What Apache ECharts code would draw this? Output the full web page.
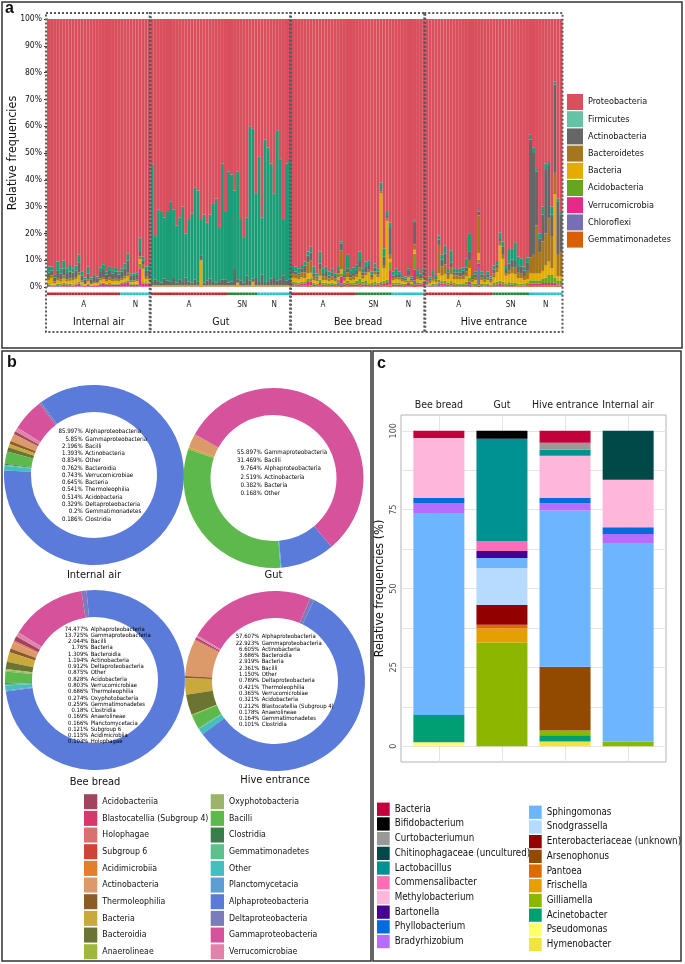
<!DOCTYPE html>
<html>
<head>
<meta charset="utf-8">
<script src="https://cdn.jsdelivr.net/npm/echarts@6.0.0/dist/echarts.min.js"></script>
<style>
html,body{margin:0;padding:0;background:#ffffff;}
#chart{width:685px;height:964px;}
</style>
</head>
<body>
<div id="chart"></div>
<script>
const NARROW = "'Liberation Sans Narrow','DejaVu Sans Condensed','Liberation Sans',sans-serif";
const BOLDF = "'Liberation Sans','DejaVu Sans',sans-serif";

// ================= Panel a : per-sample phylum relative frequencies =================
const groupNames = ['Internal air', 'Gut', 'Bee bread', 'Hive entrance'];
const groupSeasons = [
  [['A', 24], ['N', 10]],
  [['A', 25], ['SN', 10], ['N', 11]],
  [['A', 21], ['SN', 12], ['N', 11]],
  [['A', 22], ['SN', 12], ['N', 11]]
];
const phyla = ['Proteobacteria','Firmicutes','Actinobacteria','Bacteroidetes','Bacteria','Acidobacteria','Verrucomicrobia','Chloroflexi','Gemmatimonadetes'];

const Proteobacteria = [
  // Internal air
  92.4,92.4,95.5,90.5,93.0,90.2,93.0,91.8,93.0,92.0,87.8,94.3,96.5,92.4,96.5,95.5,96.1,92.8,91.5,94.3,92.5,93.7,92.9,94.3,93.0,91.2,87.4,94.9,94.9,94.5,81.6,88.7,92.4,92.0,
  // Gut
  54.2,81,71,72,74,72,68,71,77,74,70,80,75,72.5,63,64,75,73,76,73,69,67,78,54,72,57,58,64,57,75,81.4,74,40,41,65,51.4,74,45,48,54,65,41.5,52.3,75,54,53,
  // Bee bread
  91.8,92.4,93.0,91.8,90.5,86.8,85.0,92.4,94.9,86.8,93.0,92.4,94.3,93.0,94.9,92.2,83.1,93.7,88.0,93.7,92.8,91.5,86.8,93.0,90.5,90.0,94.3,91.2,93.0,61.0,85.6,72.0,76.0,94.3,93.0,94.3,95.5,96.1,93.0,96.1,75.1,93.7,94.9,93.0,
  // Hive entrance
  98.0,96.1,93.7,95.5,80.8,87.8,84.6,93.3,86.3,93.0,93.3,93.0,92.8,89.3,79.9,95.5,94.3,71.3,94.3,95.5,94.3,96.1,
  92.0,90.3,79.6,83.0,91.8,86.2,85.8,83.3,88.7,89.3,92.4,89.0,
  43.0,48.0,56.0,80.0,70.0,54.0,53.0,70.0,23.4,67.0,72.0
];
const Firmicutes = [
  2.2,1.5,1.0,3.5,2.0,3.0,1.8,2.4,1.6,1.8,3.2,1.5,0.8,2.5,0.6,0.8,0.6,1.6,1.8,1.0,1.5,1.2,1.4,1.0,1.3,1.8,2.8,0.9,1.0,1.0,5.0,1.5,1.6,1.8,
  43.6,16.3,27.1,26.3,22.8,25.5,30.1,25.3,21.3,23.1,27.8,16.5,22.9,25.8,34.3,34.1,13.4,25.3,21.5,23.8,29.1,31.3,19.8,43.3,25.1,41.3,39.9,29.3,40.1,22.5,16.9,21.8,57.7,55.8,31.3,46.4,21.3,53.1,49.8,42.8,31.3,56.0,44.8,20.8,43.7,44.3,
  1.5,1.8,2.0,1.2,1.5,1.5,2.2,2.5,1.2,4.5,1.8,2.0,1.5,1.5,1.0,1.5,0.8,1.8,5.0,1.5,2.0,2.2,3.5,1.5,2.0,1.8,1.0,1.5,1.2,2.5,3.0,1.5,2.0,1.5,2.5,1.2,1.0,0.8,1.0,0.8,1.0,1.5,1.0,1.2,
  0.4,0.8,1.5,0.8,1.5,2.0,3.0,1.2,4.5,1.5,1.2,1.5,1.0,3.5,7.0,0.8,1.0,0.5,1.0,0.8,1.2,0.8,
  1.5,1.2,2.5,2.0,1.5,5.0,4.0,7.0,3.5,3.0,1.5,2.0,
  2.0,2.0,1.0,2.0,3.0,2.0,1.5,3.0,1.0,1.0,1.0
];
const Actinobacteria = [
  2.0,1.8,1.4,2.6,2.2,2.5,2.4,2.6,2.0,2.5,3.5,1.8,1.2,2.2,1.4,1.8,1.5,2.4,3.0,2.0,2.5,2.2,2.6,2.0,2.4,3.0,4.5,1.8,1.6,1.8,2.0,1.5,2.2,2.4,
  1.5,2.0,1.2,1.0,2.5,1.8,1.2,3.0,1.0,2.2,1.5,2.8,1.4,1.0,2.0,1.2,1.5,1.0,1.8,2.5,1.2,1.0,1.5,2.0,2.2,1.0,1.4,6.0,1.2,1.8,1.0,3.5,1.6,1.2,3.0,1.5,4.0,1.2,1.5,2.5,3.0,1.8,2.2,3.5,1.6,2.0,
  1.5,1.0,0.8,1.5,2.5,2.5,3.0,1.0,0.8,2.0,1.2,1.5,1.0,1.5,1.0,1.2,2.5,1.0,1.5,1.2,1.2,1.5,2.5,1.2,2.0,1.8,1.0,1.5,1.2,0.8,3.5,1.0,10.0,0.8,0.8,1.0,0.8,0.6,1.5,0.6,8.0,1.0,0.8,1.5,
  0.4,0.8,1.0,0.8,2.0,2.5,4.0,1.0,2.0,1.2,1.2,1.5,1.8,1.5,3.0,0.8,1.0,1.5,1.0,0.8,1.0,0.8,
  1.5,1.5,1.0,3.0,1.5,2.5,3.0,2.5,2.5,2.5,2.0,3.0,
  44.0,38.0,20.0,5.0,10.0,24.0,20.0,8.0,33.0,20.0,14.0
];
const Bacteroidetes = [
  0.8,0.9,0.6,1.0,0.8,1.2,0.7,0.9,1.0,0.8,1.2,0.6,0.4,0.8,0.4,0.5,0.5,0.8,0.9,0.7,0.9,0.7,0.8,0.6,0.8,0.9,1.2,0.6,0.6,0.6,1.0,1.5,0.8,0.9,
  0.2,0.2,0.2,0.2,0.2,0.2,0.2,0.2,0.2,0.2,0.2,0.2,0.2,0.2,0.2,0.2,0.2,0.2,0.2,0.2,0.2,0.2,0.2,0.2,0.2,0.2,0.2,0.2,0.2,0.2,0.2,0.2,0.2,0.2,0.2,0.2,0.2,0.2,0.2,0.2,0.2,0.2,0.2,0.2,0.2,0.2,
  1.8,1.6,1.4,2.0,2.2,4.0,4.5,1.5,1.0,2.5,1.4,1.5,1.0,1.4,1.0,1.5,7.0,1.2,2.0,1.2,1.3,1.2,1.5,1.2,1.2,1.0,1.0,1.2,1.0,0.8,1.0,0.8,1.5,0.8,0.8,0.8,0.6,0.6,1.0,0.6,2.0,1.0,0.8,1.0,
  0.4,0.8,1.5,1.0,10.5,3.5,3.5,1.5,2.5,1.5,1.5,1.2,1.5,1.8,3.0,1.0,1.2,14.0,1.2,1.0,1.0,0.7,
  1.5,1.5,1.5,1.5,1.0,1.5,2.0,2.5,2.0,2.0,1.5,3.0,
  6.0,7.0,18.0,8.0,11.0,12.0,16.0,12.0,8.0,8.0,9.0
];
const Bacteria = [
  1.2,2.5,0.6,1.2,0.9,1.5,1.0,1.1,1.4,1.5,2.2,0.8,0.5,0.9,0.5,0.6,0.5,1.0,1.2,0.8,1.1,0.9,1.0,0.9,1.0,1.2,1.6,0.7,0.8,0.9,1.6,5.0,1.2,1.2,
  0.2,0.2,0.2,0.2,0.2,0.2,0.2,0.2,0.2,0.2,0.2,0.2,0.2,0.2,0.2,0.2,9.6,0.2,0.2,0.2,0.2,0.2,0.2,0.2,0.2,0.2,0.2,0.2,1.2,0.2,0.2,0.2,0.2,1.5,0.2,0.2,0.2,0.2,0.2,0.2,0.2,0.2,0.2,0.2,0.2,0.2,
  1.5,1.4,1.2,1.5,1.2,2.0,2.0,1.0,0.8,1.5,1.0,1.0,0.8,1.0,0.8,1.0,1.5,0.8,1.2,0.9,1.0,1.2,2.5,1.2,1.8,4.0,1.2,2.5,2.0,33.0,4.5,22.0,1.2,1.0,1.2,1.0,0.8,0.7,1.0,0.7,1.5,1.0,0.9,1.2,
  0.3,0.6,1.0,0.8,2.5,2.0,2.5,1.5,2.5,1.3,1.5,1.5,1.5,2.0,3.5,0.8,1.2,2.5,1.2,0.8,1.2,0.8,
  2.0,3.5,13.0,8.5,2.8,3.0,3.5,3.0,2.0,2.0,1.5,1.5,
  2.5,2.5,2.5,2.5,3.0,4.5,5.0,2.5,31.0,1.5,1.5
];
const Acidobacteria = [
  0.5,0.4,0.4,0.5,0.5,0.6,0.4,0.5,0.4,0.5,0.8,0.4,0.2,0.4,0.2,0.3,0.3,0.4,0.5,0.4,0.5,0.4,0.4,0.4,0.4,0.5,0.7,0.3,0.3,0.3,1.8,0.6,0.5,0.5,
  0.1,0.1,0.1,0.1,0.1,0.1,0.1,0.1,0.1,0.1,0.1,0.1,0.1,0.1,0.1,0.1,0.1,0.1,0.1,0.1,0.1,0.1,0.1,0.1,0.1,0.1,0.1,0.1,0.1,0.1,0.1,0.1,0.1,0.1,0.1,0.1,0.1,0.1,0.1,0.1,0.1,0.1,0.1,0.1,0.1,0.1,
  0.8,0.8,0.7,0.8,0.8,1.0,1.2,0.8,0.6,1.2,0.8,0.8,0.7,0.8,0.6,0.8,1.2,0.7,1.0,0.7,0.8,1.5,1.8,1.0,1.5,0.6,0.8,1.2,0.8,0.8,1.0,1.2,3.0,0.8,0.8,0.8,0.6,0.5,0.8,0.5,6.0,0.8,0.6,0.8,
  0.2,0.4,0.6,0.5,1.0,1.0,1.2,0.7,1.0,0.7,0.6,0.6,0.6,1.0,1.5,0.5,0.6,1.5,0.6,0.5,0.6,0.4,
  0.8,1.0,1.2,1.0,0.7,1.0,0.9,1.0,0.8,0.7,0.6,0.8,
  1.2,1.2,1.2,1.2,1.5,2.0,3.0,3.0,2.0,1.5,1.5
];
const Verrucomicrobia = [
  0.5,0.3,0.3,0.4,0.4,0.7,0.5,0.5,0.4,0.7,1.0,0.4,0.3,0.6,0.3,0.4,0.4,0.8,0.9,0.6,0.8,0.7,0.7,0.6,0.9,1.2,1.5,0.6,0.6,0.7,6.6,1.0,1.1,1.0,
  0.1,0.1,0.1,0.1,0.1,0.1,0.1,0.1,0.1,0.1,0.1,0.1,0.1,0.1,0.1,0.1,0.1,0.1,0.1,0.1,0.1,0.1,0.1,0.1,0.1,0.1,0.1,0.1,0.1,0.1,0.1,0.1,0.1,0.1,0.1,0.1,0.1,0.1,0.1,0.1,0.1,0.1,0.1,0.1,0.1,0.1,
  0.6,0.5,0.5,0.7,0.8,1.5,1.5,0.5,0.4,1.0,0.5,0.5,0.4,0.5,0.4,0.6,2.5,0.5,0.8,0.5,0.6,0.6,0.9,0.6,0.7,0.5,0.5,0.6,0.6,0.6,1.0,1.0,5.5,0.5,0.6,0.6,0.5,0.5,1.3,0.5,4.0,0.8,0.8,1.0,
  0.1,0.2,0.3,0.3,0.5,0.5,0.5,0.4,0.6,0.4,0.3,0.3,0.4,0.5,1.0,0.3,0.4,1.2,0.4,0.3,0.4,0.2,
  0.4,0.6,0.8,0.6,0.4,0.5,0.5,0.4,0.3,0.3,0.3,0.4,
  0.6,0.6,0.6,0.6,1.0,1.0,1.0,1.0,1.0,0.5,0.5
];
const Chloroflexi = [
  0.2,0.1,0.1,0.2,0.1,0.2,0.1,0.1,0.1,0.1,0.2,0.1,0.05,0.1,0.05,0.05,0.05,0.1,0.1,0.1,0.1,0.1,0.1,0.1,0.1,0.1,0.2,0.1,0.1,0.1,0.2,0.1,0.1,0.1,
  0.05,0.05,0.05,0.05,0.05,0.05,0.05,0.05,0.05,0.05,0.05,0.05,0.05,0.05,0.05,0.05,0.05,0.05,0.05,0.05,0.05,0.05,0.05,0.05,0.05,0.05,0.05,0.05,0.05,0.05,0.05,0.05,0.05,0.05,0.05,0.05,0.05,0.05,0.05,0.05,0.05,0.05,0.05,0.05,0.05,0.05,
  0.3,0.3,0.2,0.3,0.3,0.4,0.3,0.1,0.1,0.2,0.1,0.1,0.1,0.1,0.1,1.0,1.0,0.1,0.2,0.1,0.1,0.1,0.2,0.1,0.1,0.1,0.0,0.1,0.0,0.2,0.2,0.2,0.3,0.1,0.1,0.1,0.0,0.0,0.2,0.0,1.6,0.0,0.0,0.1,
  0.1,0.2,0.2,0.2,1.0,0.5,0.5,0.2,0.4,0.2,0.2,0.2,0.2,0.2,0.8,0.2,0.2,7.0,0.2,0.2,0.2,0.1,
  0.2,0.2,0.2,0.2,0.1,0.1,0.1,0.1,0.0,0.0,0.0,0.1,
  0.4,0.4,0.4,0.4,0.2,0.2,0.2,0.2,0.3,0.2,0.2
];
const Gemmatimonadetes = [
  0.2,0.1,0.1,0.1,0.1,0.1,0.1,0.1,0.1,0.1,0.1,0.1,0.05,0.1,0.05,0.05,0.05,0.1,0.1,0.1,0.1,0.1,0.1,0.1,0.1,0.1,0.1,0.1,0.1,0.1,0.2,0.1,0.1,0.1,
  0.05,0.05,0.05,0.05,0.05,0.05,0.05,0.05,0.05,0.05,0.05,0.05,0.05,0.05,0.05,0.05,0.05,0.05,0.05,0.05,0.05,0.05,0.05,0.05,0.05,0.05,0.05,0.05,0.05,0.05,0.05,0.05,0.05,0.05,0.05,0.05,0.05,0.05,0.05,0.05,0.05,0.05,0.05,0.05,0.05,0.05,
  0.2,0.2,0.2,0.2,0.2,0.3,0.3,0.2,0.2,0.3,0.2,0.2,0.2,0.2,0.2,0.2,0.4,0.2,0.3,0.2,0.2,0.2,0.3,0.2,0.2,0.2,0.2,0.2,0.2,0.3,0.2,0.3,0.5,0.2,0.2,0.2,0.2,0.2,0.2,0.2,0.8,0.2,0.2,0.2,
  0.1,0.1,0.2,0.1,0.2,0.2,0.2,0.2,0.2,0.2,0.2,0.2,0.2,0.2,0.3,0.1,0.1,0.5,0.1,0.1,0.1,0.1,
  0.1,0.2,0.2,0.2,0.2,0.2,0.2,0.2,0.2,0.2,0.2,0.2,
  0.3,0.3,0.3,0.3,0.3,0.3,0.3,0.3,0.3,0.3,0.3
];

// ================= Panel b : class composition per sample type =================
const pieLegendLeft = ['Acidobacteriia','Blastocatellia (Subgroup 4)','Holophagae','Subgroup 6','Acidimicrobiia','Actinobacteria','Thermoleophilia','Bacteria','Bacteroidia','Anaerolineae'];
const pieLegendRight = ['Oxyphotobacteria','Bacilli','Clostridia','Gemmatimonadetes','Other','Planctomycetacia','Alphaproteobacteria','Deltaproteobacteria','Gammaproteobacteria','Verrucomicrobiae'];
const pieInternalAir = [['Alphaproteobacteria','85.997'],['Gammaproteobacteria','5.85'],['Bacilli','2.196'],['Actinobacteria','1.393'],['Other','0.834'],['Bacteroidia','0.762'],['Verrucomicrobiae','0.743'],['Bacteria','0.645'],['Thermoleophilia','0.541'],['Acidobacteriia','0.514'],['Deltaproteobacteria','0.329'],['Gemmatimonadetes','0.2'],['Clostridia','0.186']];
const pieGut = [['Gammaproteobacteria','55.897'],['Bacilli','31.469'],['Alphaproteobacteria','9.764'],['Actinobacteria','2.519'],['Bacteria','0.382'],['Other','0.168']];
const pieBeeBread = [['Alphaproteobacteria','74.477'],['Gammaproteobacteria','13.725'],['Bacilli','2.044'],['Bacteria','1.76'],['Bacteroidia','1.309'],['Actinobacteria','1.194'],['Deltaproteobacteria','0.912'],['Other','0.875'],['Acidobacteriia','0.828'],['Verrucomicrobiae','0.803'],['Thermoleophilia','0.686'],['Oxyphotobacteria','0.274'],['Gemmatimonadetes','0.259'],['Clostridia','0.18'],['Anaerolineae','0.169'],['Planctomycetacia','0.166'],['Subgroup 6','0.121'],['Acidimicrobiia','0.115'],['Holophagae','0.103']];
const pieHiveEntrance = [['Alphaproteobacteria','57.607'],['Gammaproteobacteria','22.923'],['Actinobacteria','6.605'],['Bacteroidia','3.686'],['Bacteria','2.919'],['Bacilli','2.361'],['Other','1.150'],['Deltaproteobacteria','0.789'],['Thermoleophilia','0.421'],['Verrucomicrobiae','0.365'],['Acidobacteriia','0.321'],['Blastocatellia (Subgroup 4)','0.212'],['Anaerolineae','0.178'],['Gemmatimonadetes','0.164'],['Clostridia','0.101']];

// ================= Panel c : genus composition per sample type =================
const sampleTypes = ['Bee bread', 'Gut', 'Hive entrance', 'Internal air'];
const generaLeft = ['Bacteria','Bifidobacterium','Curtobacteriumun','Chitinophagaceae (uncultured)','Lactobacillus','Commensalibacter','Methylobacterium','Bartonella','Phyllobacterium','Bradyrhizobium'];
const generaRight = ['Sphingomonas','Snodgrassella','Enterobacteriaceae (unknown)','Arsenophonus','Pantoea','Frischella','Gilliamella','Acinetobacter','Pseudomonas','Hymenobacter'];
// values in order [Bee bread, Gut, Hive entrance, Internal air]
const gBacteria = [2.3, 0, 3.8, 0];
const gBifidobacterium = [0, 2.5, 0, 0];
const gCurtobacteriumun = [0, 0, 2.2, 0];
const gChitinophagaceae = [0, 0, 0, 15.5];
const gLactobacillus = [0, 32.5, 1.9, 0];
const gCommensalibacter = [0, 3.1, 0, 0];
const gMethylobacterium = [18.9, 0, 13.3, 15.1];
const gBartonella = [0, 2.2, 0, 0];
const gPhyllobacterium = [1.7, 0, 1.8, 2.1];
const gBradyrhizobium = [3.4, 0, 2.3, 3.1];
const gSphingomonas = [63.8, 3.2, 49.5, 62.8];
const gSnodgrassella = [0, 11.7, 0, 0];
const gEnterobacteriaceae = [0, 6.3, 0, 0];
const gArsenophonus = [0, 0, 20.2, 0];
const gPantoea = [0, 1.1, 0, 0];
const gFrischella = [0, 4.5, 0, 0];
const gGilliamella = [0, 32.9, 1.5, 1.4];
const gAcinetobacter = [8.6, 0, 2.0, 0];
const gPseudomonas = [1.3, 0, 0, 0];
const gHymenobacter = [0, 0, 1.5, 0];

// ---------------- styles ----------------
const phylumColors = {Proteobacteria:'#DA4F5D', Firmicutes:'#1B9E77', Actinobacteria:'#666666', Bacteroidetes:'#A6761D', Bacteria:'#E6AB02', Acidobacteria:'#66A61E', Verrucomicrobia:'#E7298A', Chloroflexi:'#7570B3', Gemmatimonadetes:'#D95F02'};
const phylumLegendColors = Object.assign({}, phylumColors, {Firmicutes:'#66C2A5'});
const seasonColors = {A:'#C9252C', SN:'#1F8A3B', N:'#22C6D1'};
const classColors = {
  'Acidobacteriia':'#A1455E','Blastocatellia (Subgroup 4)':'#D4386C','Holophagae':'#D9716E','Subgroup 6':'#CF4535','Acidimicrobiia':'#E27F2E',
  'Actinobacteria':'#DC9A6B','Thermoleophilia':'#8E5B27','Bacteria':'#C9A93C','Bacteroidia':'#6B7430','Anaerolineae':'#9DB83C',
  'Oxyphotobacteria':'#9BB36B','Bacilli':'#5DB94B','Clostridia':'#3B7D4A','Gemmatimonadetes':'#5CC28D','Other':'#45BEBE',
  'Planctomycetacia':'#5E9ED6','Alphaproteobacteria':'#5B7BDA','Deltaproteobacteria':'#7B7CBA','Gammaproteobacteria':'#D6539C','Verrucomicrobiae':'#E282AA'
};
const classAlias = {'Acidobacteriia':'Acidobacteria'};
const genusColors = {
  'Bacteria':'#C2003A','Bifidobacterium':'#000000','Curtobacteriumun':'#999999','Chitinophagaceae (uncultured)':'#004949','Lactobacillus':'#009292',
  'Commensalibacter':'#FF6DB6','Methylobacterium':'#FFB6DB','Bartonella':'#490092','Phyllobacterium':'#006DDB','Bradyrhizobium':'#B66DFF',
  'Sphingomonas':'#6DB6FF','Snodgrassella':'#B6DBFF','Enterobacteriaceae (unknown)':'#920000','Arsenophonus':'#924900','Pantoea':'#DB6D00',
  'Frischella':'#E69F00','Gilliamella':'#8DB600','Acinetobacter':'#009E73','Pseudomonas':'#FFFF6D','Hymenobacter':'#F0E442'
};

// ---------------- build ----------------
const phylumArrays = {Proteobacteria, Firmicutes, Actinobacteria, Bacteroidetes, Bacteria, Acidobacteria, Verrucomicrobia, Chloroflexi, Gemmatimonadetes};
const barIds = Proteobacteria.map((_, i) => 'S' + (i + 1));
const seasonPerBar = [];
groupSeasons.forEach(gs => gs.forEach(([lab, n]) => { for (let k = 0; k < n; k++) seasonPerBar.push(lab); }));

const genusArrays = {
  'Bacteria':gBacteria,'Bifidobacterium':gBifidobacterium,'Curtobacteriumun':gCurtobacteriumun,'Chitinophagaceae (uncultured)':gChitinophagaceae,
  'Lactobacillus':gLactobacillus,'Commensalibacter':gCommensalibacter,'Methylobacterium':gMethylobacterium,'Bartonella':gBartonella,
  'Phyllobacterium':gPhyllobacterium,'Bradyrhizobium':gBradyrhizobium,'Sphingomonas':gSphingomonas,'Snodgrassella':gSnodgrassella,
  'Enterobacteriaceae (unknown)':gEnterobacteriaceae,'Arsenophonus':gArsenophonus,'Pantoea':gPantoea,'Frischella':gFrischella,
  'Gilliamella':gGilliamella,'Acinetobacter':gAcinetobacter,'Pseudomonas':gPseudomonas,'Hymenobacter':gHymenobacter
};
const genera = generaLeft.concat(generaRight);
const pieOrder = pieLegendLeft.concat(pieLegendRight);

const series = [];
// panel a stacked bars (bottom first)
phyla.slice().reverse().forEach(p => {
  series.push({
    type:'bar', name:p, xAxisIndex:0, yAxisIndex:0, stack:'phyla', barCategoryGap:'0%',
    data: phylumArrays[p], itemStyle:{color: phylumColors[p]}, silent:true
  });
});
// season strip
series.push({
  type:'bar', name:'__season', xAxisIndex:1, yAxisIndex:1, barCategoryGap:'0%', silent:true,
  data: seasonPerBar.map(s => ({value:1, itemStyle:{color: seasonColors[s]}}))
});
// panel c stacked bars (bottom first) on the category axis of grid 3
genera.slice().reverse().forEach(g => {
  series.push({
    type:'bar', name:g, xAxisIndex:3, yAxisIndex:3, stack:'genus', barWidth:51,
    data: genusArrays[g], itemStyle:{color: genusColors[g]}, silent:true
  });
});
// panel b donuts
const pieSpecs = [
  {title:'Internal air', data:pieInternalAir, center:[94, 475], textTop:431.7, lineH:7.27, off:-10, fs:6.1, titleY:575},
  {title:'Gut', data:pieGut, center:[273.5, 478], textTop:452, lineH:8.3, off:-10.5, fs:6.2, titleY:575},
  {title:'Bee bread', data:pieBeeBread, center:[95, 680], textTop:629, lineH:6.27, off:-5.5, fs:5.9, titleY:782},
  {title:'Hive entrance', data:pieHiveEntrance, center:[275, 681], textTop:636.7, lineH:6.3, off:-14.5, fs:5.9, titleY:780}
];
pieSpecs.forEach(ps => {
  const d = ps.data.slice().sort((a, b) => pieOrder.indexOf(a[0]) - pieOrder.indexOf(b[0]))
    .map(([n, v]) => ({name:n, value:parseFloat(v), itemStyle:{color: classColors[n]}}));
  series.push({
    type:'pie', name:ps.title, center:ps.center, radius:[63, 90], startAngle:151, clockwise:false,
    label:{show:false}, labelLine:{show:false}, silent:true, emphasis:{disabled:true}, data:d
  });
});

const legendText = (fs) => ({fontSize:fs, color:'#111', fontFamily:NARROW});
const option = {
  animation:false,
  backgroundColor:'#ffffff',
  textStyle:{fontFamily:NARROW},
  grid:[
    {left:47, top:19, width:515.5, height:268, outerBoundsMode:'none', containLabel:false},
    {left:47, top:292.5, width:515.5, height:2.6, outerBoundsMode:'none', containLabel:false},
    // panel c frame (ggplot panel incl. 0.6 discrete expansion)
    {left:401, top:415, width:265, height:347, show:true, borderColor:'#B3B3B3', borderWidth:1, backgroundColor:'rgba(0,0,0,0)', outerBoundsMode:'none', containLabel:false},
    // panel c bars: the four category bands inside the frame
    {left:407.31, top:415, width:252.38, height:347, outerBoundsMode:'none', containLabel:false}
  ],
  xAxis:[
    {type:'category', gridIndex:0, data:barIds, show:false},
    {type:'category', gridIndex:1, data:barIds, show:false},
    {type:'value', gridIndex:2, min:0.4, max:4.6,
      axisLine:{show:false}, axisLabel:{show:false},
      axisTick:{show:false, customValues:[1,2,3,4]},
      splitLine:{show:true, lineStyle:{color:'#E4E4E4', width:1}}},
    {type:'category', gridIndex:3, data:sampleTypes, position:'top',
      axisLine:{show:false},
      axisTick:{show:true, alignWithLabel:true, length:3, lineStyle:{color:'#A0A0A0'}},
      axisLabel:{fontSize:10.5, color:'#1A1A1A', margin:4, fontFamily:NARROW, interval:0}}
  ],
  yAxis:[
    {type:'value', gridIndex:0, min:0, max:100, interval:10,
      axisLine:{show:true, lineStyle:{color:'#333'}},
      axisTick:{show:true, length:3, lineStyle:{color:'#333'}},
      axisLabel:{formatter:'{value}%', fontSize:8.5, color:'#111', margin:5, fontFamily:NARROW},
      splitLine:{show:false}},
    {type:'value', gridIndex:1, min:0, max:1, show:false},
    {type:'value', gridIndex:2, min:-5, max:105,
      axisLine:{show:false},
      axisTick:{show:false, customValues:[0,12.5,25,37.5,50,62.5,75,87.5,100]},
      axisLabel:{customValues:[0,25,50,75,100], rotate:90, fontSize:9, color:'#4D4D4D', margin:3, fontFamily:NARROW},
      splitLine:{show:true, lineStyle:{color:'#E4E4E4', width:1}},
      name:'Relative frequencies (%)', nameLocation:'middle', nameGap:15,
      nameTextStyle:{fontSize:12.5, color:'#111', fontFamily:NARROW}},
    {type:'value', gridIndex:3, min:-5, max:105, show:false}
  ],
  legend:[
    {data: phyla.map(p => ({name:p, itemStyle:{color: phylumLegendColors[p]}})), left:567, top:94, orient:'vertical',
      itemWidth:16, itemHeight:16, itemGap:1.2, padding:0, icon:'rect', selectedMode:false, textStyle:legendText(9)},
    {data: pieLegendLeft.map(n => ({name:n, itemStyle:{color: classColors[n]}})), left:84, top:794.2, orient:'vertical',
      itemWidth:13.3, itemHeight:15, itemGap:1.67, padding:0, icon:'rect', selectedMode:false, textStyle:legendText(8.7)},
    {data: pieLegendRight.map(n => ({name:n, itemStyle:{color: classColors[n]}})), left:210.7, top:794.2, orient:'vertical',
      itemWidth:13.3, itemHeight:15, itemGap:1.67, padding:0, icon:'rect', selectedMode:false, textStyle:legendText(8.7)},
    {data: generaLeft.map(n => ({name:n, itemStyle:{color: genusColors[n]}})), left:377, top:802.6, orient:'vertical',
      itemWidth:12.7, itemHeight:13.3, itemGap:1.4, padding:0, icon:'rect', selectedMode:false, textStyle:legendText(9.7)},
    {data: generaRight.map(n => ({name:n, itemStyle:{color: genusColors[n]}})), left:529, top:805.6, orient:'vertical',
      itemWidth:12.7, itemHeight:13.3, itemGap:1.4, padding:0, icon:'rect', selectedMode:false, textStyle:legendText(9.7)}
  ],
  series: series
};

const chart = echarts.init(document.getElementById('chart'));
chart.setOption(option);

// ---------------- decorations derived from axes ----------------
const g = [];
// panel frames
g.push({type:'rect', shape:{x:2, y:2, width:680, height:346}, style:{fill:'none', stroke:'#333', lineWidth:1.5}, z:200});
g.push({type:'rect', shape:{x:2, y:351, width:369, height:610}, style:{fill:'none', stroke:'#333', lineWidth:1.5}, z:200});
g.push({type:'rect', shape:{x:373, y:351, width:308, height:610}, style:{fill:'none', stroke:'#333', lineWidth:1.5}, z:200});
// panel letters
g.push({type:'text', style:{text:'a', x:5, y:1, fontSize:16, fontWeight:'bold', fontFamily:BOLDF, fill:'#111', verticalAlign:'top'}, z:201});
g.push({type:'text', style:{text:'b', x:7, y:355, fontSize:16, fontWeight:'bold', fontFamily:BOLDF, fill:'#111', verticalAlign:'top'}, z:201});
g.push({type:'text', style:{text:'c', x:377, y:356, fontSize:16, fontWeight:'bold', fontFamily:BOLDF, fill:'#111', verticalAlign:'top'}, z:201});

// panel a y-axis title, centred on the value axis
const yMid = (chart.convertToPixel({yAxisIndex:0}, 0) + chart.convertToPixel({yAxisIndex:0}, 100)) / 2;
g.push({type:'text', x:13, y:yMid, rotation:Math.PI / 2,
  style:{text:'Relative frequencies', align:'center', verticalAlign:'middle', fontSize:12.5, fontFamily:NARROW, fill:'#111'}, z:150});

// group boxes and season labels
const cxp = i => chart.convertToPixel({xAxisIndex:0}, barIds[i]);
const bw = cxp(1) - cxp(0);
const edge = i => cxp(i) - bw / 2;
let start = 0;
groupNames.forEach((gn, gi) => {
  const n = groupSeasons[gi].reduce((s, x) => s + x[1], 0);
  const x0 = edge(start), x1 = x0 + n * bw;
  g.push({type:'rect', shape:{x:x0 - 1, y:13, width:x1 - x0 + 1, height:319},
    style:{fill:'none', stroke:'#5A5A5A', lineWidth:2, lineDash:[2, 2]}, z:150});
  g.push({type:'text', style:{text:gn, x:(x0 + x1) / 2, y:322, align:'center', verticalAlign:'middle', fontSize:10.5, fontFamily:NARROW, fill:'#111'}, z:150});
  let s = start;
  groupSeasons[gi].forEach(([lab, m]) => {
    g.push({type:'text', style:{text:lab, x:edge(s) + m * bw / 2, y:305, align:'center', verticalAlign:'middle', fontSize:8, fontFamily:NARROW, fill:'#222'}, z:150});
    s += m;
  });
  start += n;
});

// donut centre annotations and titles
pieSpecs.forEach(ps => {
  const [cx] = ps.center;
  ps.data.forEach(([n, v], j) => {
    const y = ps.textTop + j * ps.lineH;
    g.push({type:'text', style:{text:v + '%', x:cx + ps.off - 1.2, y:y, align:'right', verticalAlign:'middle', fontSize:ps.fs, fontFamily:NARROW, fill:'#000'}, z:150});
    g.push({type:'text', style:{text:classAlias[n] || n, x:cx + ps.off + 1.2, y:y, align:'left', verticalAlign:'middle', fontSize:ps.fs, fontFamily:NARROW, fill:'#000'}, z:150});
  });
  g.push({type:'text', style:{text:ps.title, x:cx, y:ps.titleY, align:'center', verticalAlign:'middle', fontSize:11, fontFamily:NARROW, fill:'#111'}, z:150});
});

chart.setOption({graphic: g});
</script>
</body>
</html>
